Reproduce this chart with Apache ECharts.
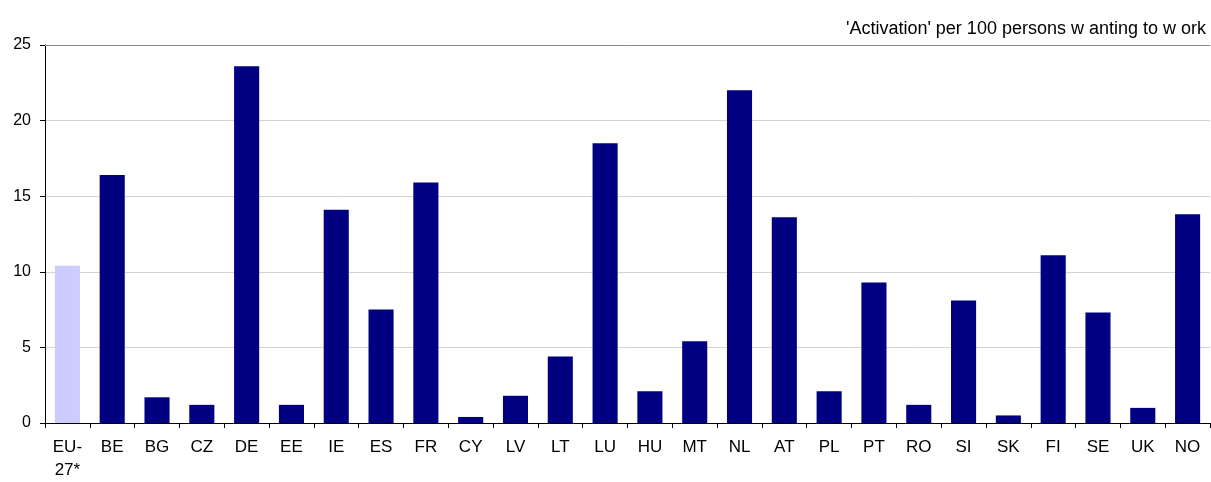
<!DOCTYPE html>
<html><head><meta charset="utf-8">
<script src="https://cdn.jsdelivr.net/npm/echarts@6/dist/echarts.min.js"></script>
<style>html,body{margin:0;padding:0;background:#fff}#c{width:1211px;height:482px}</style>
</head><body><div id="c"></div>
<script>
const categories = ['EU-\n27*','BE','BG','CZ','DE','EE','IE','ES','FR','CY','LV','LT','LU','HU','MT','NL','AT','PL','PT','RO','SI','SK','FI','SE','UK','NO'];
const values = [10.4,16.4,1.7,1.2,23.6,1.2,14.1,7.5,15.9,0.4,1.8,4.4,18.5,2.1,5.4,22.0,13.6,2.1,9.3,1.2,8.1,0.5,11.1,7.3,1.0,13.8];
const yTicks = [0,5,10,15,20,25];
const titleText = "'Activation' per 100 persons w anting to w ork";
const highlight = 'EU-\n27*';

const chart = echarts.init(document.getElementById('c'));
chart.setOption({
  animation:false,
  textStyle:{fontFamily:'Liberation Sans, Arial, sans-serif'},
  title:{text:titleText,right:0,top:15,textStyle:{fontSize:18,fontWeight:'normal',color:'#000'}},
  grid:{left:45,right:1,top:45,bottom:58},
  xAxis:[{type:'category',data:categories,
    axisLine:{lineStyle:{color:'#000'}},
    axisTick:{show:true,length:5,lineStyle:{color:'#000'}},
    axisLabel:{color:'#000',fontSize:17,margin:13,lineHeight:23,verticalAlign:'top',interval:0}},
   {type:'category',position:'top',data:categories,
    axisLine:{show:true,lineStyle:{color:'#888'}},
    axisTick:{show:false},axisLabel:{show:false}}],
  yAxis:{type:'value',min:yTicks[0],max:yTicks[yTicks.length-1],interval:5,
    axisLine:{show:true,lineStyle:{color:'#000'}},
    axisTick:{show:true,length:5,lineStyle:{color:'#000'}},
    axisLabel:{color:'#000',fontSize:16,margin:14},
    splitLine:{lineStyle:{color:'#d4d4d4',width:1}}},
  series:[{type:'bar',barCategoryGap:'44%',
    data:values.map((v,i)=>({value:v,itemStyle:{color:categories[i]===highlight?'#ccccff':'#000080'}}))}]
});
</script></body></html>
